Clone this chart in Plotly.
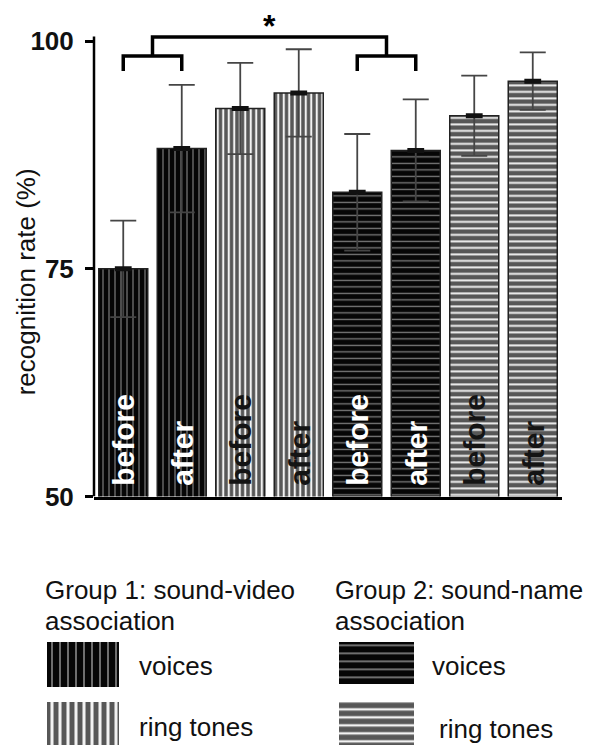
import plotly.graph_objects as go

# ---------------- data ----------------
categories = ["G1 voices before", "G1 voices after", "G1 ring tones before", "G1 ring tones after",
              "G2 voices before", "G2 voices after", "G2 ring tones before", "G2 ring tones after"]
phase_labels = ["before", "after", "before", "after", "before", "after", "before", "after"]
conditions = ["g1_voices", "g1_voices", "g1_ring", "g1_ring",
              "g2_voices", "g2_voices", "g2_ring", "g2_ring"]
recognition_rate = [75.0, 88.2, 92.6, 94.3, 83.4, 88.0, 91.8, 95.6]
error_sem = [5.3, 7.0, 5.0, 4.8, 6.4, 5.6, 4.4, 3.15]
y_tick_values = [50, 75, 100]
y_title = "recognition rate (%)"
significance_label = "*"
legend_group_titles = ["Group 1: sound-video", "Group 2: sound-name"]
legend_group_subtitle = "association"
legend_item_labels = ["voices", "ring tones"]
legend_conditions = [["g1_voices", "g1_ring"], ["g2_voices", "g2_ring"]]

# ---------------- styles / layout ----------------
BODY_MARGIN = 8
SCALE_Y, OFF_Y = 0.978, 1.0          # observed vertical mapping page -> picture
W = 593 - BODY_MARGIN
H = 754
FONT = "Liberation Sans, Arial, sans-serif"
PATTERNS = {
    "g1_voices": dict(shape="|", bg="#060606", fg="#7c7c7c", size=6, solidity=0.2),
    "g1_ring": dict(shape="|", bg="#575757", fg="#f2f2f2", size=5.5, solidity=0.38),
    "g2_voices": dict(shape="-", bg="#060606", fg="#7c7c7c", size=6.5, solidity=0.2),
    "g2_ring": dict(shape="-", bg="#575757", fg="#f2f2f2", size=6.5, solidity=0.3),
}
LEGEND_SOLIDITY = {"g1_voices": 0.22, "g1_ring": 0.38, "g2_voices": 0.22, "g2_ring": 0.3}
TEXT_COLOR = {"g1_voices": "white", "g2_voices": "white", "g1_ring": "#141414", "g2_ring": "#141414"}


def px_x(p):   # target picture x -> paper x
    return (p - BODY_MARGIN) / W


def px_y(t):   # target picture y -> paper y
    page = (t - OFF_Y) / SCALE_Y
    return 1 - (page - BODY_MARGIN) / H


x_pos = list(range(len(categories)))

fig = go.Figure()

for cond in ["g1_voices", "g1_ring", "g2_voices", "g2_ring"]:
    idx = [i for i, c in enumerate(conditions) if c == cond]
    p = PATTERNS[cond]
    fig.add_trace(go.Bar(
        x=[x_pos[i] for i in idx], y=[recognition_rate[i] for i in idx],
        marker=dict(
            color=p["bg"],
            line=dict(color="#222222", width=1.5),
            pattern=dict(shape=p["shape"], fgcolor=p["fg"], size=p["size"],
                         solidity=p["solidity"], fillmode="overlay", fgopacity=1),
        ),
        error_y=dict(type="data", array=[error_sem[i] for i in idx], color="#454545",
                     thickness=1.8, width=13),
        hoverinfo="skip", showlegend=False,
    ))

fig.add_trace(go.Scatter(
    x=x_pos, y=recognition_rate, mode="markers",
    marker=dict(symbol="line-ew", size=12, line=dict(width=5, color="#111111")),
    hoverinfo="skip", showlegend=False,
))

annotations = []
for xi, lab, c in zip(x_pos, phase_labels, conditions):
    annotations.append(dict(
        x=xi, y=50, xref="x", yref="y", text=lab, textangle=-90,
        showarrow=False, xanchor="center", yanchor="bottom", yshift=9,
        font=dict(family=FONT, size=30, color=TEXT_COLOR[c], weight="bold"),
    ))

# significance brackets
BR_LOW, BR_MID, BR_TOP = 96.72, 98.36, 100.44
line_style = dict(color="black", width=3.5)
shapes = [
    dict(type="path", xref="x", yref="y",
         path=f"M 0,{BR_LOW} L 0,{BR_MID} L 1,{BR_MID} L 1,{BR_LOW}", line=line_style),
    dict(type="path", xref="x", yref="y",
         path=f"M 4,{BR_LOW} L 4,{BR_MID} L 5,{BR_MID} L 5,{BR_LOW}", line=line_style),
    dict(type="path", xref="x", yref="y",
         path=f"M 0.5,{BR_MID} L 0.5,{BR_TOP} L 4.5,{BR_TOP} L 4.5,{BR_MID}", line=line_style),
    dict(type="line", xref="x domain", yref="y", x0=0, x1=0, y0=50, y1=100.5,
         line=dict(color="black", width=2.5)),
]
annotations.append(dict(x=2.5, y=px_y(43), xref="x", yref="paper", text=significance_label,
                        showarrow=False, xanchor="center", yanchor="bottom",
                        font=dict(family=FONT, size=32, color="black", weight="bold")))

annotations.append(dict(x=px_x(26), y=px_y(280), xref="paper", yref="paper", text=y_title,
                        textangle=-90, showarrow=False, xanchor="center", yanchor="middle",
                        font=dict(family=FONT, size=26, color="#111111")))

# ---------------- legend (hidden second subplot in picture-pixel units) ----------------
LEG_TOP = 560
LEG_BOTTOM = (BODY_MARGIN + H) * SCALE_Y + OFF_Y
SW_X = [[83, 83], [376.5, 376.5]]
SW_W = [[72, 72], [75, 75]]
SW_TOP = [[641, 701], [641, 701]]
SW_H = [[45, 60], [42, 60]]
for g in range(2):
    for k in range(2):
        cond = legend_conditions[g][k]
        p = PATTERNS[cond]
        fig.add_trace(go.Bar(
            x=[SW_X[g][k]], y=[SW_H[g][k]], base=[SW_TOP[g][k]], width=[SW_W[g][k]],
            xaxis="x2", yaxis="y2",
            marker=dict(color=p["bg"], line=dict(width=0),
                        pattern=dict(shape=p["shape"], fgcolor=p["fg"], size=8,
                                     solidity=LEGEND_SOLIDITY[cond], fillmode="overlay", fgopacity=1)),
            hoverinfo="skip", showlegend=False,
        ))

TITLE_X = [43, 333]
TITLE_SIZE = [26, 25.5]
TITLE_Y = [589, 620]
ITEM_X = [[137, 137], [430, 437]]
ITEM_Y = [[665, 726], [665, 728]]
txt_font = dict(family=FONT, size=26, color="#111111")
for g in range(2):
    annotations.append(dict(x=px_x(TITLE_X[g]), y=px_y(TITLE_Y[0]), xref="paper", yref="paper",
                            text=legend_group_titles[g], showarrow=False, xanchor="left",
                            yanchor="middle",
                            font=dict(family=FONT, size=TITLE_SIZE[g], color="#111111")))
    annotations.append(dict(x=px_x(TITLE_X[g]), y=px_y(TITLE_Y[1]), xref="paper", yref="paper",
                            text=legend_group_subtitle, showarrow=False, xanchor="left",
                            yanchor="middle", font=txt_font))
    for k in range(2):
        annotations.append(dict(x=px_x(ITEM_X[g][k]), y=px_y(ITEM_Y[g][k]), xref="paper", yref="paper",
                                text=legend_item_labels[k], showarrow=False, xanchor="left",
                                yanchor="middle", font=txt_font))

fig.update_layout(
    width=W, height=H,
    margin=dict(l=0, r=0, t=0, b=0),
    paper_bgcolor="white", plot_bgcolor="white",
    barmode="overlay", bargap=0.162,
    showlegend=False,
    xaxis=dict(domain=[px_x(94), px_x(562)], range=[-0.5, 7.5], showline=True, linecolor="black",
               linewidth=3, showticklabels=False, ticks="", showgrid=False, zeroline=False),
    yaxis=dict(domain=[px_y(495), px_y(27)], range=[50, 101.2], tickvals=y_tick_values,
               ticks="outside", ticklen=8, tickwidth=2.5, tickcolor="black", showline=False,
               showgrid=False, zeroline=False, ticklabelstandoff=6,
               tickfont=dict(family=FONT, size=26, color="#111111", weight="bold")),
    xaxis2=dict(domain=[0, 1], range=[BODY_MARGIN, BODY_MARGIN + W], visible=False, anchor="y2"),
    yaxis2=dict(domain=[0, px_y(LEG_TOP)], range=[LEG_BOTTOM, LEG_TOP], visible=False, anchor="x2"),
    shapes=shapes,
    annotations=annotations,
)

fig.write_html("out.html")
